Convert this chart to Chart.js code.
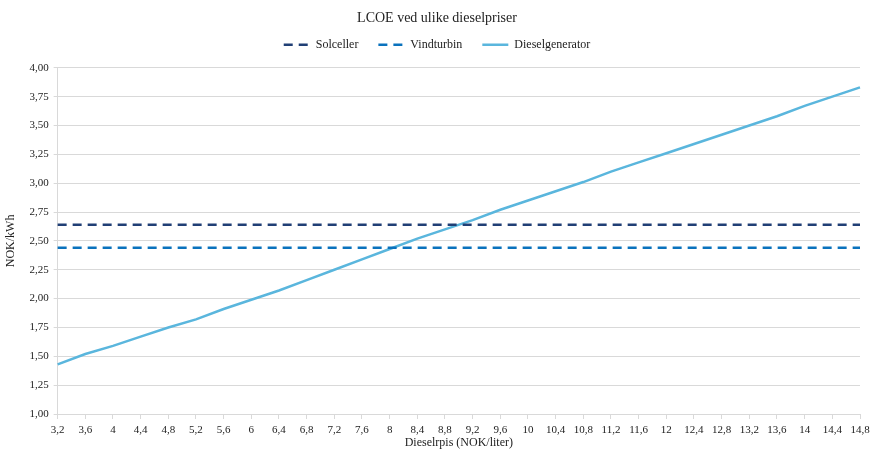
<!DOCTYPE html>
<html>
<head>
<meta charset="utf-8">
<script src="https://cdn.jsdelivr.net/npm/chart.js@4"></script>
<style>
  html, body { margin: 0; padding: 0; background: #fff; }
  #wrap { width: 870px; height: 451px; }
</style>
</head>
<body>
<div id="wrap"><canvas id="grafica"></canvas></div>
<script>
// dieselpris (NOK/liter)
const dieselpriser = [3.2, 3.6, 4, 4.4, 4.8, 5.2, 5.6, 6, 6.4, 6.8, 7.2, 7.6, 8, 8.4, 8.8,
  9.2, 9.6, 10, 10.4, 10.8, 11.2, 11.6, 12, 12.4, 12.8, 13.2, 13.6, 14, 14.4, 14.8];

// LCOE (NOK/kWh)
const solceller = [2.64, 2.64, 2.64, 2.64, 2.64, 2.64, 2.64, 2.64, 2.64, 2.64, 2.64, 2.64, 2.64, 2.64, 2.64,
  2.64, 2.64, 2.64, 2.64, 2.64, 2.64, 2.64, 2.64, 2.64, 2.64, 2.64, 2.64, 2.64, 2.64, 2.64];
const vindturbin = [2.44, 2.44, 2.44, 2.44, 2.44, 2.44, 2.44, 2.44, 2.44, 2.44, 2.44, 2.44, 2.44, 2.44, 2.44,
  2.44, 2.44, 2.44, 2.44, 2.44, 2.44, 2.44, 2.44, 2.44, 2.44, 2.44, 2.44, 2.44, 2.44, 2.44];
const dieselgenerator = [1.43, 1.52, 1.59, 1.67, 1.75, 1.82, 1.91, 1.99, 2.07, 2.16, 2.25, 2.34, 2.43, 2.52, 2.60,
  2.68, 2.77, 2.85, 2.93, 3.01, 3.10, 3.18, 3.26, 3.34, 3.42, 3.50, 3.58, 3.67, 3.75, 3.83];

const yMin = 1, yMax = 4, yStep = 0.25;

const fuente = "'Liberation Serif', 'Times New Roman', serif";
const komma = v => String(v).replace(".", ",");

// litt mer luft under forklaringen
const legendLuft = {
  id: "legendLuft",
  beforeInit(chart) {
    const fit = chart.legend.fit;
    chart.legend.fit = function () {
      fit.call(this);
      this.height += 7;
    };
  }
};

new Chart(document.getElementById("grafica"), {
  type: "line",
  data: {
    labels: dieselpriser.map(komma),
    datasets: [
      {
        label: "Solceller",
        data: solceller,
        borderColor: "#203f75",
        borderWidth: 2.5,
        borderDash: [9, 6],
        pointRadius: 0
      },
      {
        label: "Vindturbin",
        data: vindturbin,
        borderColor: "#0a72bd",
        borderWidth: 2.5,
        borderDash: [9, 6],
        pointRadius: 0
      },
      {
        label: "Dieselgenerator",
        data: dieselgenerator,
        borderColor: "#5ab6dd",
        borderWidth: 2.5,
        pointRadius: 0,
        tension: 0
      }
    ]
  },
  plugins: [legendLuft],
  options: {
    responsive: true,
    maintainAspectRatio: false,
    animation: false,
    layout: { padding: { left: 4, right: 0, top: 4, bottom: 2 } },
    plugins: {
      title: {
        display: true,
        text: "LCOE ved ulike dieselpriser",
        color: "#222",
        font: { family: fuente, size: 14, weight: "normal" },
        padding: { top: 6, bottom: -8 }
      },
      legend: {
        position: "top",
        labels: {
          usePointStyle: true,
          pointStyle: "line",
          pointStyleWidth: 26,
          boxHeight: 8,
          color: "#222",
          padding: 20,
          font: { family: fuente, size: 12 },
          // legg til stiplet linje i forklaringen
          generateLabels: chart => {
            const items = Chart.defaults.plugins.legend.labels.generateLabels(chart);
            items.forEach(it => {
              const ds = chart.data.datasets[it.datasetIndex];
              it.lineDash = ds.borderDash || [];
              it.lineWidth = 2.5;
            });
            return items;
          }
        }
      },
      tooltip: { enabled: false }
    },
    scales: {
      x: {
        offset: false,
        afterFit: scale => { scale.paddingRight = 10; },
        title: {
          display: true,
          text: "Dieselrpis (NOK/liter)",
          color: "#222",
          font: { family: fuente, size: 12, lineHeight: 1 },
          padding: { top: -5, bottom: 0 }
        },
        grid: { display: true, drawOnChartArea: false, color: "#d9d9d9", tickLength: 5 },
        border: { color: "#d9d9d9" },
        ticks: {
          color: "#222",
          maxRotation: 0,
          autoSkip: false,
          font: { family: fuente, size: 11, lineHeight: 1 },
          padding: 6
        }
      },
      y: {
        min: yMin,
        max: yMax,
        title: {
          display: true,
          text: "NOK/kWh",
          color: "#222",
          font: { family: fuente, size: 12 },
          padding: { top: 0, bottom: 6 }
        },
        grid: { color: "#d9d9d9", tickLength: 4, lineWidth: 1 },
        border: { color: "#d9d9d9" },
        ticks: {
          stepSize: yStep,
          color: "#222",
          font: { family: fuente, size: 11 },
          padding: 5,
          callback: v => v.toFixed(2).replace(".", ",")
        }
      }
    }
  }
});
</script>
</body>
</html>
